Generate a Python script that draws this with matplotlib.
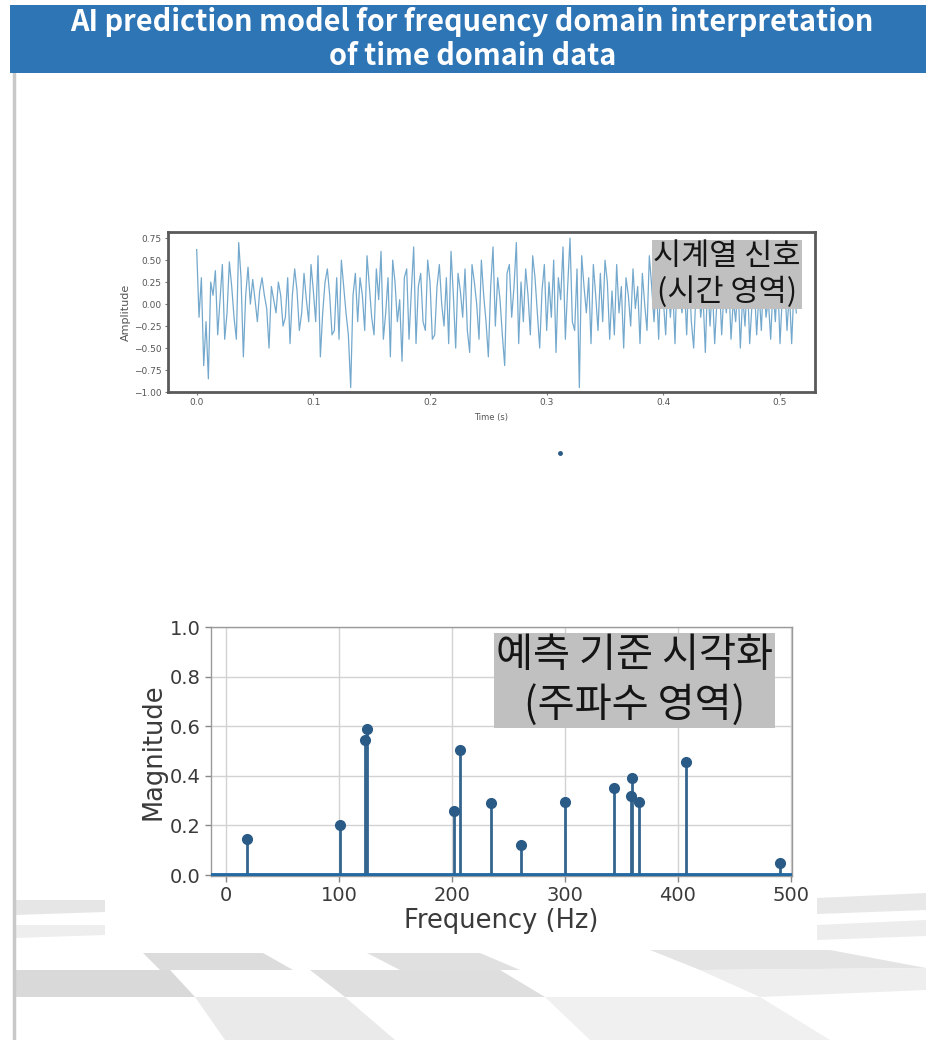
import numpy as np
import matplotlib.pyplot as plt
from matplotlib.patches import Rectangle, Polygon
from matplotlib.lines import Line2D

plt.rcParams['font.family'] = ['DejaVu Sans']
KR = ['Noto Sans CJK KR', 'DejaVu Sans']

title_lines = ["AI prediction model for frequency domain interpretation",
               "of time domain data"]
time_label = "시계열 신호\n(시간 영역)"
freq_label = "예측 기준 시각화\n(주파수 영역)"

# time-domain samples (dt = 2 ms)
sample_rate = 500
amplitude = [
    0.62, -0.15, 0.30, -0.70, -0.20, -0.85, 0.25, 0.10, 0.38, -0.35,
    0.05, 0.45, -0.40, -0.10, 0.48, 0.20, -0.15, -0.40, 0.70, 0.30,
    -0.60, 0.10, 0.42, 0.00, 0.28, 0.05, -0.20, 0.15, 0.30, 0.10,
    -0.05, -0.50, 0.20, 0.05, -0.10, 0.25, 0.10, -0.25, -0.15, 0.30,
    -0.45, 0.10, 0.40, 0.15, -0.30, -0.10, 0.35, 0.05, -0.20, 0.45,
    0.15, -0.20, 0.55, -0.60, -0.10, 0.25, 0.40, 0.10, -0.35, -0.30,
    0.30, -0.40, 0.50, 0.20, -0.10, -0.35, -0.95, 0.10, 0.35, -0.20,
    0.30, 0.10, -0.30, 0.55, 0.20, -0.15, -0.35, 0.40, 0.05, 0.60,
    -0.40, -0.10, 0.30, -0.60, 0.50, 0.25, -0.20, 0.05, -0.65, 0.30,
    0.40, -0.40, 0.15, 0.65, -0.45, 0.20, 0.35, -0.20, -0.30, 0.50,
    0.25, -0.40, -0.35, 0.20, 0.45, 0.00, -0.25, 0.30, -0.45, 0.60,
    0.10, -0.50, 0.35, 0.15, -0.15, 0.40, -0.30, -0.55, 0.45, 0.25,
    0.00, -0.40, 0.50, 0.10, -0.20, -0.60, 0.20, 0.65, -0.25, 0.30,
    0.05, -0.35, -0.70, 0.35, 0.45, -0.15, 0.20, 0.70, -0.45, 0.25,
    -0.20, 0.40, 0.10, -0.35, 0.55, 0.30, -0.10, -0.50, 0.15, 0.45,
    -0.30, 0.25, -0.15, 0.50, -0.55, 0.30, 0.05, 0.65, -0.40, 0.20,
    0.75, -0.20, -0.30, 0.40, -0.95, 0.55, 0.20, -0.10, 0.30, -0.45,
    0.45, 0.10, -0.30, 0.35, -0.20, 0.50, 0.25, -0.40, 0.15, -0.35,
    0.45, -0.10, 0.20, -0.50, 0.30, 0.10, -0.25, 0.40, -0.05, 0.20,
    -0.45, 0.35, 0.00, -0.30, 0.55, 0.20, -0.20, 0.25, -0.40, 0.45,
    0.05, -0.35, 0.30, -0.15, 0.20, -0.45, 0.50, 0.10, -0.10, 0.25,
    -0.35, 0.40, -0.20, -0.50, 0.15, 0.35, -0.15, 0.10, -0.55, 0.30,
    -0.25, 0.20, -0.45, 0.05, 0.25, -0.35, 0.15, -0.10, 0.30, -0.40,
    0.05, -0.20, 0.25, -0.50, 0.10, -0.25, 0.30, -0.45, 0.00, 0.20,
    -0.35, 0.15, -0.30, 0.35, -0.15, 0.05, -0.40, 0.20, -0.20, 0.30,
    -0.45, 0.10, 0.25, -0.30, 0.15, -0.45, 0.20, -0.10,
]
time_ticks = [0.0, 0.1, 0.2, 0.3, 0.4, 0.5]
amp_ticks = [-1.00, -0.75, -0.50, -0.25, 0.00, 0.25, 0.50, 0.75]

# spectrum peaks
freqs = [19, 101, 123, 125, 202, 207, 235, 261, 300, 344, 359, 360, 366, 407, 491]
magnitude = [0.145, 0.20, 0.545, 0.59, 0.26, 0.505, 0.29, 0.12, 0.295, 0.35,
             0.32, 0.39, 0.295, 0.455, 0.05]
freq_ticks = [0, 100, 200, 300, 400, 500]
mag_ticks = [0.0, 0.2, 0.4, 0.6, 0.8, 1.0]

W, H = 926, 1040
fig = plt.figure(figsize=(W / 100, H / 100), dpi=100)
fig.patch.set_facecolor('white')


def px(x, y):
    return (x / W, 1 - y / H)


# floor decoration behind the lower picture
floor = [
    ([(15, 900), (105, 900), (105, 912), (15, 915)], '#e6e6e6'),
    ([(817, 898), (926, 893), (926, 910), (817, 914)], '#e8e8e8'),
    ([(15, 925), (105, 925), (105, 935), (15, 938)], '#eeeeee'),
    ([(817, 925), (926, 920), (926, 936), (817, 940)], '#ededed'),
    ([(143, 953), (263, 953), (293, 970), (160, 970)], '#dcdcdc'),
    ([(367, 953), (480, 953), (520, 970), (400, 970)], '#e0e0e0'),
    ([(650, 950), (830, 950), (926, 968), (700, 970)], '#e4e4e4'),
    ([(15, 970), (170, 970), (195, 997), (15, 997)], '#d9d9d9'),
    ([(310, 970), (500, 970), (545, 997), (345, 997)], '#dedede'),
    ([(700, 970), (926, 968), (926, 990), (760, 997)], '#eeeeee'),
    ([(195, 997), (345, 997), (395, 1040), (225, 1040)], '#eaeaea'),
    ([(545, 997), (760, 997), (830, 1040), (590, 1040)], '#f0f0f0'),
]
for pts, col in floor:
    fig.add_artist(Polygon([px(x, y) for x, y in pts], closed=True,
                           transform=fig.transFigure, facecolor=col,
                           edgecolor='none', zorder=-3))

# white card behind the spectrum
x0, y0 = px(105, 945)
fig.add_artist(Rectangle((x0, y0), 712 / W, 355 / H, transform=fig.transFigure,
                         facecolor='white', edgecolor='none', zorder=-2))

# left border of the slide panel
fig.add_artist(Line2D([14 / W, 14 / W], [0, 1 - 73 / H], transform=fig.transFigure,
                      color='#c9c9c9', lw=2.5, zorder=-1))

# header band
hx, hy = px(10, 73)
fig.add_artist(Rectangle((hx, hy), 916 / W, 68 / H, transform=fig.transFigure,
                         facecolor='#2E75B6', edgecolor='none', zorder=-1))
fig.text(0.51, 1 - 22 / H, title_lines[0], color='white', fontsize=20.8,
         fontweight='bold', family=KR, ha='center', va='center')
fig.text(0.51, 1 - 56 / H, title_lines[1], color='white', fontsize=20.8,
         fontweight='bold', family=KR, ha='center', va='center')

# ---- upper panel: time signal ----
ax1 = fig.add_axes([168 / W, 1 - 392 / H, 647 / W, 160 / H])
ax1.set_zorder(2)
t = np.arange(len(amplitude)) / sample_rate
ax1.plot(t, amplitude, color='#74a9cd', lw=0.9)
ax1.set_xlim(-0.0246, 0.53)
ax1.set_ylim(-1.0, 0.82)
ax1.set_xticks(time_ticks)
ax1.set_xticklabels([f"{v:.1f}" for v in time_ticks])
ax1.set_yticks(amp_ticks)
ax1.set_yticklabels([f"{v:.2f}".replace('-', '\u2212') for v in amp_ticks])
ax1.tick_params(labelsize=6.5, labelcolor='#555555', color='#777777',
                length=2.5, width=0.8, pad=2)
for s in ax1.spines.values():
    s.set_color('#5a5a5a')
    s.set_linewidth(2)
ax1.set_xlabel('Time (s)', fontsize=6, color='#555555', labelpad=4)
ax1.set_ylabel('Amplitude', fontsize=8, color='#555555', labelpad=2)
ax1.text(0.864, 0.945, time_label, transform=ax1.transAxes, ha='center',
         va='top', multialignment='center', fontsize=22, family=KR,
         color='#151515', linespacing=1.18,
         bbox=dict(boxstyle='square,pad=0.04', facecolor='#c0c0c0',
                   edgecolor='none'), zorder=5)

# stray dot below the upper panel
fig.add_artist(Line2D([560 / W], [1 - 453 / H], transform=fig.transFigure,
                      marker='o', markersize=2.5, color='#2a5b86', lw=0))

# ---- lower panel: spectrum ----
ax2 = fig.add_axes([210.7 / W, 1 - 876 / H, 581 / W, 248.7 / H])
ax2.set_zorder(2)
ax2.set_axisbelow(True)
ax2.grid(True, color='#d2d2d2', lw=1)
markerline, stemlines, baseline = ax2.stem(freqs, magnitude, basefmt=' ')
plt.setp(stemlines, color='#34658f', linewidth=2)
plt.setp(markerline, color='#2a5b86', markersize=7)
ax2.axhline(0, color='#2369a3', lw=3.5, zorder=3)
ax2.set_xlim(-13.5, 501)
ax2.set_ylim(-0.004, 1.0)
ax2.set_xticks(freq_ticks)
ax2.set_yticks(mag_ticks)
ax2.set_yticklabels([f"{v:.1f}" for v in mag_ticks])
ax2.tick_params(labelsize=14, labelcolor='#3a3a3a', color='#888888',
                length=4, width=1)
for s in ax2.spines.values():
    s.set_color('#9a9a9a')
    s.set_linewidth(1)
ax2.set_xlabel('Frequency (Hz)', fontsize=18.5, color='#3a3a3a', labelpad=2)
ax2.set_ylabel('Magnitude', fontsize=18.5, color='#3a3a3a', labelpad=2)
ax2.text(0.729, 0.97, freq_label, transform=ax2.transAxes, ha='center',
         va='top', multialignment='center', fontsize=29, family=KR,
         color='#151515', linespacing=1.25,
         bbox=dict(boxstyle='square,pad=0.05', facecolor='#c0c0c0',
                   edgecolor='none'), zorder=5)

plt.savefig('out.png', dpi=100)
